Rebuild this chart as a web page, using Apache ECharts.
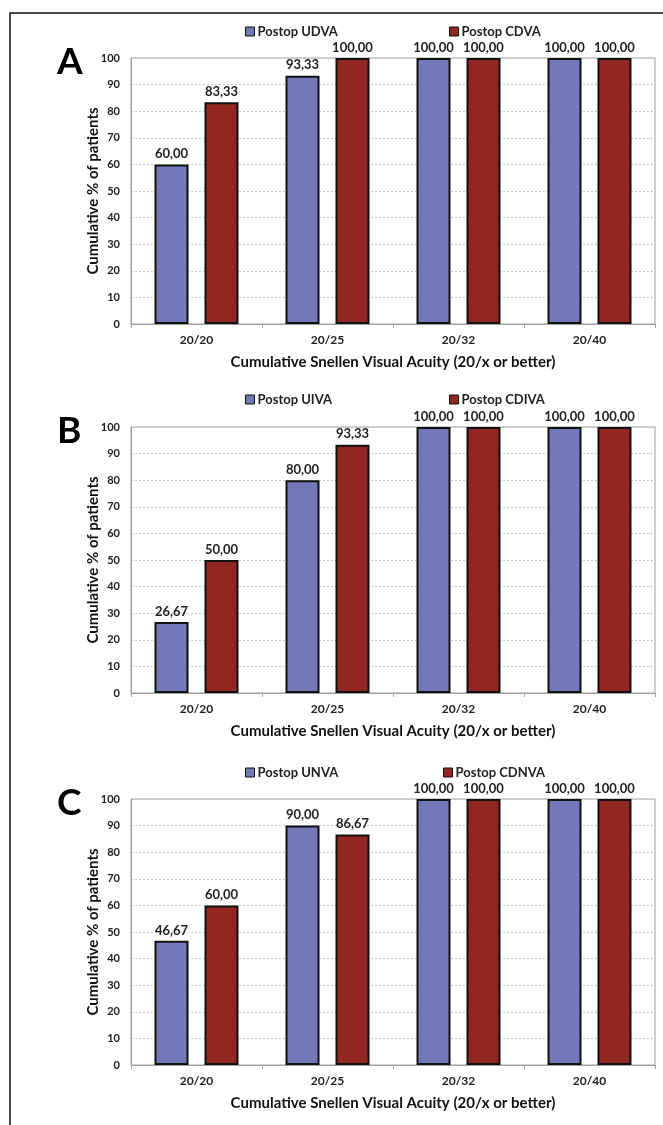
<!DOCTYPE html>
<html>
<head>
<meta charset="utf-8">
<script src="https://cdn.jsdelivr.net/npm/echarts@6/dist/echarts.min.js"></script>
<style>
  html, body { margin: 0; padding: 0; background: #fff; }
  #main { width: 663px; height: 1125px; }
</style>
</head>
<body>
<div id="main"></div>
<script>
// categories on x axis
var categories = ['20/20', '20/25', '20/32', '20/40'];

// panel A
var udva = [60, 93.33, 100, 100];
var cdva = [83.33, 100, 100, 100];
// panel B
var uiva = [26.67, 80, 100, 100];
var cdiva = [50, 93.33, 100, 100];
// panel C
var unva = [46.67, 90, 100, 100];
var cdnva = [60, 86.67, 100, 100];

var panelLetters = ['A', 'B', 'C'];
var blueNames = ['Postop UDVA', 'Postop UIVA', 'Postop UNVA'];
var redNames = ['Postop CDVA', 'Postop CDIVA', 'Postop CDNVA'];
var blueData = [udva, uiva, unva];
var redData = [cdva, cdiva, cdnva];

var BLUE = '#7378b8';
var RED = '#922620';
var FONT = 'Lato, "Open Sans", sans-serif';

var chart = echarts.init(document.getElementById('main'));

var tops = [58, 427, 799];
var legendTops = [20, 388, 761];
var redLegendLeft = [444, 444, 438];

var grid = [], xAxis = [], yAxis = [], series = [], legend = [], title = [];

for (var i = 0; i < 3; i++) {
  grid.push({
    left: 131, right: 8, top: tops[i], height: 266,
    show: true, borderColor: '#a0a0a0', borderWidth: 1
  });
  xAxis.push({
    type: 'category', gridIndex: i, data: categories,
    axisLine: { lineStyle: { color: '#a0a0a0' } },
    axisTick: { show: true, length: 4, lineStyle: { color: '#a0a0a0' } },
    axisLabel: { color: '#222', fontWeight: 'bold', fontSize: 12, fontFamily: FONT, margin: 10 },
    name: 'Cumulative Snellen Visual Acuity (20/x or better)',
    nameLocation: 'middle', nameGap: 31, nameMoveOverlap: false,
    nameTextStyle: { color: '#111', fontWeight: 'bold', fontSize: 15, fontFamily: FONT }
  });
  yAxis.push({
    type: 'value', gridIndex: i, min: 0, max: 100, interval: 10,
    axisLine: { show: true, lineStyle: { color: '#a0a0a0' } },
    axisTick: { show: false },
    splitLine: { lineStyle: { color: '#c8c8c8', type: [2, 2] } },
    axisLabel: { color: '#222', fontWeight: 'bold', fontSize: 11, fontFamily: FONT, margin: 11 },
    name: 'Cumulative % of patients',
    nameLocation: 'middle', nameGap: 30, nameMoveOverlap: false,
    nameTextStyle: { color: '#111', fontWeight: 'bold', fontSize: 15, fontFamily: FONT }
  });
  var label = {
    show: true, position: 'top', distance: 4,
    color: '#222', fontWeight: 'bold', fontSize: 13, fontFamily: FONT,
    formatter: function (p) { return p.value.toFixed(2).replace('.', ','); }
  };
  series.push({
    name: blueNames[i], type: 'bar', xAxisIndex: i, yAxisIndex: i,
    data: blueData[i], barWidth: 34, barGap: '47%',
    itemStyle: { color: BLUE, borderColor: '#111', borderWidth: 2 },
    label: label
  });
  series.push({
    name: redNames[i], type: 'bar', xAxisIndex: i, yAxisIndex: i,
    data: redData[i], barWidth: 34, barGap: '47%',
    itemStyle: { color: RED, borderColor: '#111', borderWidth: 2 },
    label: label
  });
  legend.push({
    data: [blueNames[i]], left: 240, top: legendTops[i],
    itemWidth: 9, itemHeight: 9, itemGap: 4,
    icon: 'rect',
    itemStyle: { borderColor: '#111', borderWidth: 1 },
    textStyle: { color: '#222', fontWeight: 'bold', fontSize: 13, fontFamily: FONT, padding: [0, 0, 0, -2] }
  });
  legend.push({
    data: [redNames[i]], left: redLegendLeft[i], top: legendTops[i],
    itemWidth: 9, itemHeight: 9, itemGap: 4,
    icon: 'rect',
    itemStyle: { borderColor: '#111', borderWidth: 1 },
    textStyle: { color: '#222', fontWeight: 'bold', fontSize: 13, fontFamily: FONT, padding: [0, 0, 0, -2] }
  });
  title.push({
    text: panelLetters[i], left: 52, top: tops[i] - 19,
    textStyle: { color: '#000', fontWeight: 'bold', fontSize: 37, fontFamily: FONT }
  });
}

var option = {
  animation: false,
  backgroundColor: '#fff',
  title: title,
  legend: legend,
  grid: grid,
  xAxis: xAxis,
  yAxis: yAxis,
  series: series,
  graphic: [{
    type: 'rect',
    shape: { x: 10, y: 13, width: 720, height: 1200 },
    style: { fill: 'none', stroke: '#111', lineWidth: 1.5 },
    silent: true
  }]
};

chart.setOption(option);
</script>
</body>
</html>
